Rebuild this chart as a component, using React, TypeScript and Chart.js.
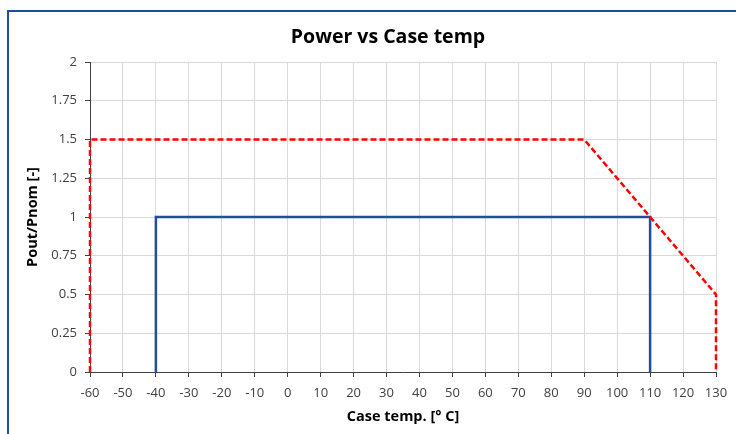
import React, { useEffect, useRef } from "react";
import { Chart, registerables } from "chart.js";

Chart.register(...registerables);

const redX = [-60, -60, 90, 130, 130];
const redY = [0, 1.5, 1.5, 0.5, 0];
const blueX = [-40, -40, 110, 110];
const blueY = [0, 1, 1, 0];

const xMin = -60;
const xMax = 130;
const xStep = 10;
const yMin = 0;
const yMax = 2;
const yStep = 0.25;

const titleText = "Power vs Case temp";
const xTitle = "Case temp. [° C]";
const yTitle = "Pout/Pnom [-]";

const FONT = "'Open Sans', Lato, sans-serif";

const titlePlugin = {
  id: "customTitle",
  afterDraw(chart: any) {
    const ctx = chart.ctx;
    ctx.save();
    ctx.font = `bold 19.5px ${FONT}`;
    ctx.fillStyle = "#000000";
    ctx.textAlign = "center";
    ctx.textBaseline = "middle";
    ctx.fillText(titleText, 388, 37);
    ctx.restore();
  },
};

export default function App() {
  const ref = useRef<HTMLCanvasElement | null>(null);

  useEffect(() => {
    if (!ref.current) return;
    const chart = new Chart(ref.current, {
      type: "scatter",
      data: {
        datasets: [
          {
            label: "max",
            data: redX.map((x, i) => ({ x, y: redY[i] })),
            showLine: true,
            borderColor: "#ff0000",
            borderWidth: 2.5,
            borderDash: [6, 3],
            pointRadius: 0,
            fill: false,
            clip: 4,
          },
          {
            label: "nom",
            data: blueX.map((x, i) => ({ x, y: blueY[i] })),
            showLine: true,
            borderColor: "#1f4e9c",
            borderWidth: 2.5,
            pointRadius: 0,
            fill: false,
            clip: 4,
          },
        ],
      },
      options: {
        responsive: false,
        animation: false,
        layout: { padding: { left: 0, right: 20, top: 62, bottom: 0 } },
        plugins: {
          legend: { display: false },
          tooltip: { enabled: false },
          title: { display: false },
        },
        scales: {
          x: {
            type: "linear",
            min: xMin,
            max: xMax,
            afterFit: (s: any) => {
              s.height = 62;
            },
            ticks: {
              stepSize: xStep,
              color: "#404040",
              font: { family: FONT, size: 13 },
              padding: 8,
              maxRotation: 0,
              autoSkip: false,
            },
            grid: { color: "#d9d9d9", tickColor: "#404040", tickLength: 5 },
            border: { color: "#404040", width: 1 },
            title: {
              display: true,
              text: xTitle,
              color: "#000000",
              font: { family: FONT, size: 14.5, weight: "bold" },
              padding: { top: 4, bottom: 8 },
            },
          },
          y: {
            type: "linear",
            min: yMin,
            max: yMax,
            afterFit: (s: any) => {
              s.width = 90;
            },
            ticks: {
              stepSize: yStep,
              color: "#404040",
              font: { family: FONT, size: 13 },
              padding: 8,
              callback: (v: any) => String(v),
            },
            grid: { color: "#d9d9d9", tickColor: "#404040", tickLength: 5 },
            border: { color: "#404040", width: 1 },
            title: {
              display: true,
              text: yTitle,
              color: "#000000",
              font: { family: FONT, size: 14.5, weight: "bold" },
              padding: { top: 24, bottom: 4 },
            },
          },
        },
      },
      plugins: [titlePlugin],
    });
    return () => chart.destroy();
  }, []);

  return (
    <div
      style={{
        position: "fixed",
        left: 0,
        top: 0,
        width: 736,
        height: 434,
        background: "#ffffff",
        overflow: "hidden",
      }}
    >
      <canvas ref={ref} width={736} height={434} style={{ position: "absolute", left: 0, top: 0 }} />
      <div
        style={{
          position: "absolute",
          left: 7,
          top: 10,
          width: 800,
          height: 500,
          borderLeft: "2px solid #1f4e9c",
          borderTop: "2px solid #1f4e9c",
          pointerEvents: "none",
        }}
      />
    </div>
  );
}
